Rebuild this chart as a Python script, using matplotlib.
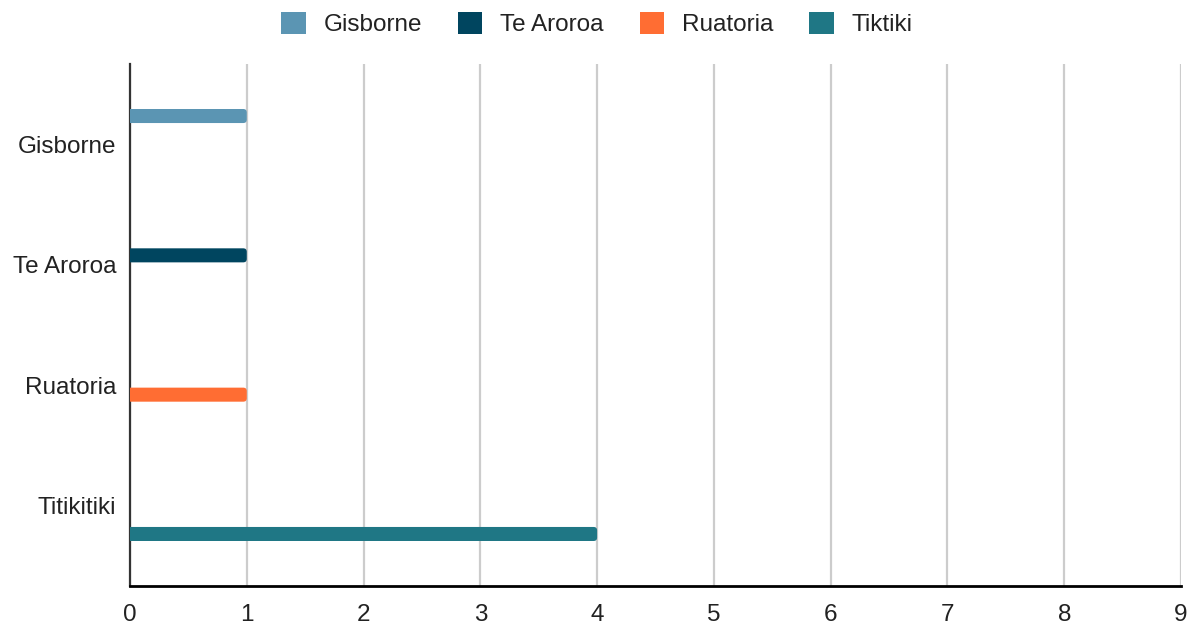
import matplotlib
matplotlib.use("Agg")
import matplotlib.pyplot as plt
from matplotlib.patches import FancyBboxPatch, Patch
import numpy as np

plt.rcParams['font.family'] = ['Liberation Sans', 'DejaVu Sans']

categories = ["Gisborne", "Te Aroroa", "Ruatoria", "Titikitiki"]
series_names = ["Gisborne", "Te Aroroa", "Ruatoria", "Tiktiki"]
values = {
    "Gisborne":  [1, 0, 0, 0],
    "Te Aroroa": [0, 1, 0, 0],
    "Ruatoria":  [0, 0, 1, 0],
    "Tiktiki":   [0, 0, 0, 4],
}
colors = ["#5B95B3", "#00455F", "#FF6D33", "#1F7785"]
xticks = list(range(0, 10))

FS = 17.5

fig = plt.figure(figsize=(11.94, 6.26), dpi=100)
ax = fig.add_axes([130/1194, 1-586/626, (1181-130)/1194, (586-64)/626])

y = np.arange(len(categories))
slot = 0.161
bh = 0.117
px_x = (1181-130)/9.0
px_y = (586-64)/(len(categories)-1+1.35)
r = 3.5 / px_x
aspect = (3.5/px_y) / r

for i, (name, c) in enumerate(zip(series_names, colors)):
    offs = (i - 1.5) * slot
    bars = ax.barh(y + offs, values[name], height=bh, color=c, alpha=0)
    for b in bars:
        w = b.get_width()
        if w <= 0:
            continue
        x0, y0, h = b.get_x(), b.get_y(), b.get_height()
        p = FancyBboxPatch((x0 - 0.1, y0), w + 0.1, h,
                           boxstyle=f"round,pad=0,rounding_size={r}",
                           mutation_aspect=aspect, facecolor=c, edgecolor='none',
                           zorder=3)
        ax.add_patch(p)

ax.set_xlim(0, 9)
ax.set_ylim(len(categories) - 1 + 0.675, -0.675)
ax.set_xticks(xticks)
ax.set_xticklabels([str(t) for t in xticks])
ax.set_yticks(y)
ax.set_yticklabels(categories)
ax.tick_params(axis='both', length=0, labelsize=FS, colors='#222222')
ax.tick_params(axis='x', pad=13)
ax.tick_params(axis='y', pad=10)
ax.xaxis.grid(True, color='#cccccc', linewidth=1.6, zorder=0)
ax.set_axisbelow(True)
for s in ['top', 'right']:
    ax.spines[s].set_visible(False)
ax.spines['left'].set_color('#333333')
ax.spines['left'].set_linewidth(1.6)
ax.spines['bottom'].set_color('#000000')
ax.spines['bottom'].set_linewidth(2)

handles = [Patch(facecolor=c, edgecolor='none') for c in colors]
leg = fig.legend(handles, series_names, loc='center', bbox_to_anchor=(0.5, 1-24/626),
                 ncol=4, frameon=False, fontsize=FS, handlelength=1.0, handleheight=1.0,
                 handletextpad=0.74, columnspacing=1.48, borderpad=0)
for t in leg.get_texts():
    t.set_color('#222222')

fig.savefig("out.png", dpi=100)
